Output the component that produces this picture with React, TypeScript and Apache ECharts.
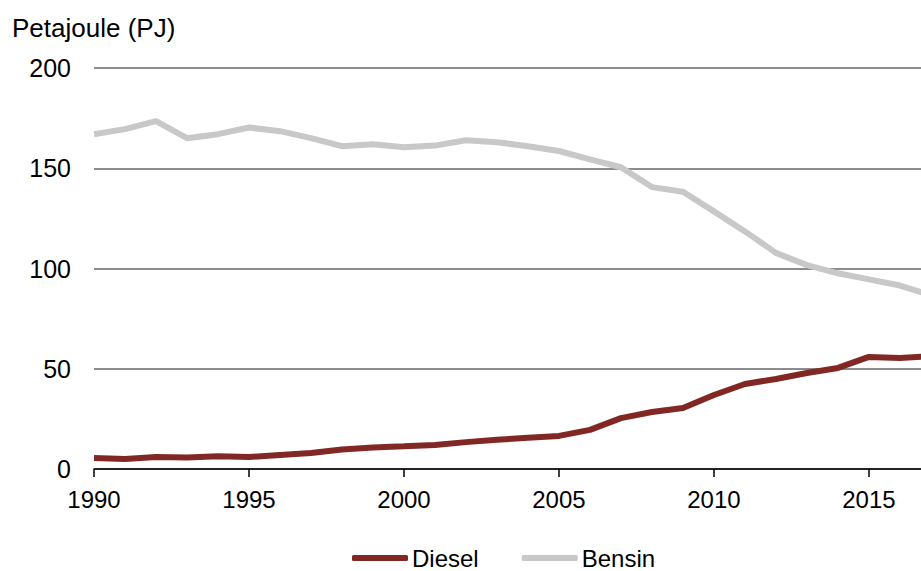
import React, { useEffect, useRef } from "react";
import * as echarts from "echarts";

const years = [1990, 1991, 1992, 1993, 1994, 1995, 1996, 1997, 1998, 1999, 2000, 2001, 2002, 2003, 2004, 2005, 2006, 2007, 2008, 2009, 2010, 2011, 2012, 2013, 2014, 2015, 2016, 2017];
const diesel = [5.5, 5.0, 6.0, 5.7, 6.3, 6.0, 7.0, 8.0, 9.7, 10.7, 11.3, 12.0, 13.4, 14.6, 15.6, 16.5, 19.5, 25.4, 28.4, 30.4, 36.9, 42.4, 44.9, 47.9, 50.4, 55.9, 55.4, 56.3];
const bensin = [167, 169.5, 173.5, 165, 167, 170.3, 168.5, 165, 161, 162, 160.5, 161.3, 164, 163, 161, 158.6, 154.4, 150.5, 140.6, 138.3, 128.5, 118.5, 107.8, 101.7, 97.6, 94.6, 91.5, 86.7];
const seriesNames = ["Diesel", "Bensin"];
const yTicks = { min: 0, max: 200, interval: 50 };
const xRange = { min: 1990, max: 2016.68, interval: 5 };
const yTitle = "Petajoule (PJ)";

export default function App() {
  const ref = useRef<HTMLDivElement>(null);
  useEffect(() => {
    if (!ref.current) return;
    const chart = echarts.init(ref.current, undefined, { renderer: "svg" });
    const font = "Liberation Sans, Arial, sans-serif";
    const mk = (vals: number[]) => years.map((y, i) => [y, vals[i]]);
    chart.setOption({
      animation: false,
      textStyle: { fontFamily: font },
      title: {
        text: yTitle,
        left: 7,
        top: 10,
        textStyle: { fontSize: 26, fontWeight: "normal", color: "#000", fontFamily: font },
      },
      grid: { left: 94, right: 0, top: 68, bottom: 102, containLabel: false },
      legend: {
        top: 546,
        left: 347,
        padding: [0, 5, 0, 5],
        itemWidth: 56,
        itemHeight: 6,
        itemGap: 43,
        icon: "roundRect",
        textStyle: { fontSize: 24, lineHeight: 22, color: "#000", fontFamily: font, padding: [0, 0, 0, -1] },
        data: seriesNames,
      },
      xAxis: {
        type: "value",
        min: xRange.min,
        max: xRange.max,
        interval: xRange.interval,
        axisLine: { show: true, lineStyle: { color: "#000", width: 1.5 } },
        axisTick: { show: true, inside: false, length: 8, lineStyle: { color: "#000", width: 1.5 } },
        axisLabel: {
          fontSize: 24,
          color: "#000",
          margin: 18,
          showMaxLabel: false,
          fontFamily: font,
          formatter: (v: number) => (v % 5 === 0 ? String(v) : ""),
        },
        splitLine: { show: false },
      },
      yAxis: {
        type: "value",
        min: yTicks.min,
        max: yTicks.max,
        interval: yTicks.interval,
        axisLine: { show: false },
        axisTick: { show: false },
        axisLabel: { fontSize: 25, color: "#000", margin: 23, fontFamily: font },
        splitLine: { lineStyle: { color: "#8c8c8c", width: 2 } },
      },
      series: [
        {
          name: seriesNames[0],
          type: "line",
          data: mk(diesel),
          showSymbol: false,
          symbol: "none",
          clip: true,
          lineStyle: { color: "#812824", width: 6 },
          itemStyle: { color: "#812824" },
          z: 3,
        },
        {
          name: seriesNames[1],
          type: "line",
          data: mk(bensin),
          showSymbol: false,
          symbol: "none",
          clip: true,
          lineStyle: { color: "#c8c8c7", width: 6 },
          itemStyle: { color: "#c8c8c7" },
          z: 2,
        },
      ],
    });
    return () => chart.dispose();
  }, []);
  return <div ref={ref} style={{ position: "absolute", left: 0, top: 0, width: 921, height: 571 }} />;
}
